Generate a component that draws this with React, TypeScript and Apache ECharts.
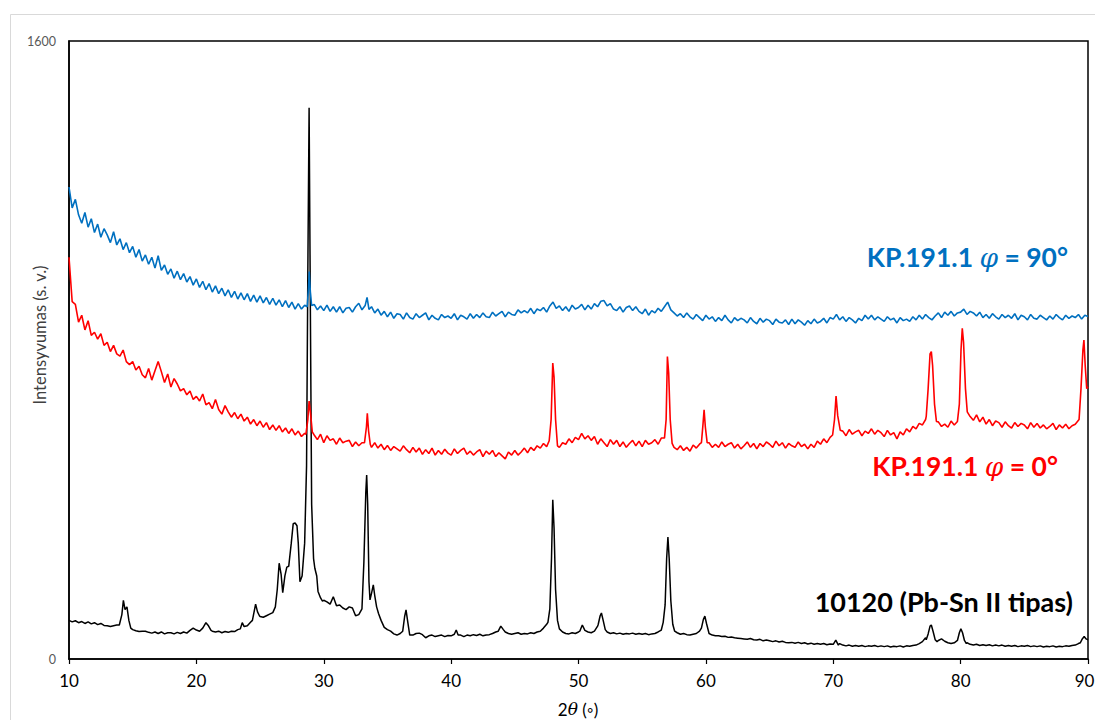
import React, { useEffect, useRef } from "react";
import * as echarts from "echarts";

// x grid of the baseline arrays: 10 .. 90 step 0.25
const X_START = 10;
const X_STEP = 0.25;
const xTicks = [10, 20, 30, 40, 50, 60, 70, 80, 90];
const yTicks = [0, 1600];

const redBase = [
  1040, 925, 918, 872, 890, 852, 876, 838, 846, 828, 842, 812, 820, 796, 812, 790,
  784, 800, 770, 762, 770, 748, 758, 736, 728, 752, 722, 746, 770, 744, 716, 738,
  704, 726, 712, 694, 700, 684, 694, 672, 680, 668, 686, 658, 664, 648, 672, 646,
  634, 656, 640, 626, 638, 622, 634, 616, 626, 608, 620, 604, 616, 600, 612, 594,
  606, 592, 604, 588, 598, 584, 596, 580, 590, 576, 584, 580, 590, 580, 568, 582,
  560, 578, 566, 570, 556, 572, 560, 564, 566, 550, 562, 552, 560, 554, 560, 548,
  560, 546, 556, 542, 553, 540, 550, 544, 538, 552, 542, 534, 548, 536, 546, 530,
  542, 532, 546, 528, 540, 530, 543, 533, 528, 544, 532, 540, 546, 530, 538, 528,
  536, 542, 524, 538, 530, 540, 524, 534, 526, 518, 536, 528, 540, 528, 536, 546,
  534, 548, 540, 552, 546, 558, 550, 562, 600, 560, 548, 560, 556, 570, 560, 574,
  568, 584, 570, 578, 566, 576, 556, 570, 560, 550, 568, 556, 566, 550, 562, 548,
  558, 566, 552, 564, 550, 566, 556, 560, 568, 556, 572, 566, 600, 556, 548, 542,
  552, 540, 548, 538, 554, 546, 556, 600, 600, 560, 548, 556, 548, 562, 550, 556,
  560, 546, 556, 544, 552, 562, 548, 558, 544, 558, 550, 562, 556, 548, 564, 552,
  560, 546, 558, 552, 548, 562, 550, 556, 544, 556, 548, 564, 556, 570, 560, 574,
  600, 620, 600, 590, 578, 594, 582, 588, 592, 578, 590, 584, 596, 582, 592, 586,
  576, 592, 580, 586, 570, 588, 580, 596, 588, 602, 596, 610, 606, 620, 640, 790,
  640, 614, 602, 608, 600, 616, 606, 640, 830, 740, 640, 628, 618, 632, 614, 626,
  608, 620, 604, 616, 612, 600, 614, 604, 598, 612, 602, 610, 606, 596, 612, 600,
  610, 598, 606, 596, 602, 610, 594, 606, 598, 608, 596, 604, 608, 618, 800, 760,
  705,
];

const redPeaks = [
  [[28.6, 582], [28.75, 620], [28.85, 668], [28.95, 640], [29.1, 588]],
  [[33.2, 560], [33.35, 600], [33.42, 636], [33.52, 590], [33.65, 556]],
  [[47.7, 565], [47.85, 620], [47.98, 766], [48.08, 730], [48.2, 620], [48.35, 552]],
  [[56.75, 572], [56.88, 620], [56.98, 783], [57.08, 740], [57.2, 620], [57.35, 558]],
  [[59.65, 560], [59.78, 610], [59.86, 645], [59.96, 600], [60.1, 560]],
  [[69.95, 580], [70.1, 620], [70.22, 681], [70.35, 630], [70.55, 592]],
  [[77.3, 628], [77.45, 700], [77.6, 790], [77.7, 796], [77.8, 760], [77.95, 660], [78.1, 615]],
  [[79.75, 615], [79.9, 660], [80.03, 800], [80.13, 856], [80.23, 820], [80.38, 700], [80.52, 640], [80.7, 630]],
  [[89.3, 620], [89.45, 700], [89.6, 800], [89.68, 826], [89.78, 760], [89.9, 700], [90, 705]],
];

const blueBase = [
  1222, 1168, 1190, 1150, 1128, 1156, 1118, 1140, 1104, 1126, 1092, 1114, 1098, 1078, 1106, 1072,
  1088, 1060, 1078, 1052, 1068, 1040, 1060, 1030, 1046, 1022, 1040, 1012, 1044, 1006, 1020, 996,
  1010, 986, 1004, 982, 998, 976, 990, 968, 984, 962, 978, 956, 972, 950, 966, 946,
  960, 940, 956, 936, 952, 932, 948, 930, 946, 926, 942, 924, 940, 922, 936, 918,
  934, 916, 930, 912, 928, 910, 924, 906, 920, 906, 916, 912, 950, 918, 904, 914,
  902, 916, 900, 912, 898, 912, 896, 908, 910, 898, 912, 921, 904, 915, 930, 912,
  896, 906, 890, 900, 886, 898, 882, 894, 892, 880, 896, 884, 880, 894, 884, 890,
  896, 878, 890, 882, 878, 892, 884, 888, 882, 894, 878, 890, 886, 880, 894, 882,
  892, 884, 896, 886, 884, 898, 888, 894, 900, 886, 898, 892, 890, 904, 896, 902,
  896, 908, 894, 906, 902, 910, 898, 914, 924, 908, 914, 902, 912, 900, 916, 906,
  910, 918, 904, 916, 906, 920, 912, 926, 928, 914, 920, 906, 902, 912, 898, 910,
  914, 902, 912, 900, 894, 906, 890, 902, 896, 908, 900, 912, 924, 904, 896, 888,
  894, 884, 896, 886, 880, 892, 884, 876, 890, 880, 886, 874, 884, 876, 890, 878,
  870, 884, 876, 882, 878, 870, 884, 874, 868, 882, 872, 880, 876, 866, 880, 872,
  870, 878, 866, 880, 868, 878, 872, 864, 876, 868, 880, 870, 874, 882, 870, 884,
  880, 892, 878, 886, 874, 884, 878, 870, 882, 876, 890, 880, 890, 878, 886, 880,
  874, 886, 878, 882, 870, 884, 876, 880, 874, 886, 878, 890, 880, 892, 884, 878,
  888, 896, 884, 898, 890, 900, 888, 896, 898, 906, 892, 900, 896, 888, 898, 884,
  892, 882, 894, 886, 880, 892, 884, 890, 882, 894, 878, 890, 886, 878, 892, 882,
  880, 890, 884, 878, 888, 880, 892, 884, 878, 890, 882, 888, 884, 892, 880, 890,
  887,
];

const bluePeaks = [
  [[28.7, 912], [28.8, 960], [28.86, 1003], [28.95, 950], [29.05, 915]],
  [[33.25, 915], [33.4, 936], [33.55, 905]],
];

const blackBase = [
  100, 96, 99, 94, 97, 92, 96, 91, 94, 89, 92, 87, 86, 84, 86, 88,
  90, 130, 132, 95, 76, 73, 71, 72, 72, 69, 67, 70, 66, 70, 65, 68,
  68, 65, 69, 66, 70, 67, 74, 80, 75, 72, 76, 88, 84, 72, 70, 72,
  68, 71, 69, 72, 71, 76, 92, 84, 86, 95, 128, 125, 110, 108, 112, 116,
  122, 200, 230, 215, 235, 240, 330, 350, 300, 215, 500, 1000, 700, 235, 180, 155,
  152, 148, 142, 161, 138, 140, 132, 128, 135, 132, 112, 115, 130, 300, 250, 165,
  160, 118, 100, 82, 76, 72, 65, 62, 66, 76, 118, 62, 62, 66, 67, 63,
  55, 60, 62, 58, 60, 62, 58, 61, 60, 68, 74, 62, 58, 62, 60, 63,
  61, 64, 60, 62, 63, 66, 70, 82, 78, 70, 66, 64, 66, 68, 64, 66,
  65, 68, 66, 70, 72, 80, 90, 150, 380, 150, 80, 70, 66, 65, 68, 66,
  70, 86, 80, 70, 68, 72, 85, 115, 80, 70, 66, 68, 65, 67, 64, 66,
  65, 67, 64, 66, 64, 66, 63, 65, 66, 70, 75, 100, 300, 120, 72, 68,
  64, 66, 63, 62, 64, 66, 72, 100, 100, 64, 62, 60, 60, 58, 59, 56,
  57, 55, 54, 53, 52, 51, 53, 50, 49, 51, 47, 49, 47, 45, 47, 44,
  46, 43, 42, 43, 41, 43, 40, 42, 39, 41, 38, 40, 38, 40, 37, 39,
  42, 48, 40, 36, 34, 36, 33, 35, 33, 35, 32, 34, 33, 35, 32, 34,
  32, 34, 31, 33, 32, 34, 31, 34, 33, 35, 36, 40, 45, 55, 85, 70,
  45, 48, 52, 46, 42, 40, 42, 50, 76, 60, 42, 38, 36, 38, 35, 37,
  35, 37, 34, 36, 34, 36, 33, 35, 33, 35, 32, 34, 33, 35, 32, 34,
  32, 34, 31, 33, 32, 34, 31, 33, 32, 34, 33, 35, 36, 40, 50, 58,
  52,
];

const blackPeaks = [
  [[13.95, 88], [14.15, 115], [14.27, 152], [14.4, 128], [14.55, 135], [14.7, 100], [14.85, 80]],
  [[20.5, 80], [20.75, 94], [20.95, 86], [21.15, 74]],
  [[23.45, 78], [23.6, 94], [23.75, 84]],
  [[24.4, 100], [24.55, 125], [24.65, 142], [24.8, 122], [24.95, 112]],
  [[26.0, 120], [26.2, 135], [26.35, 180], [26.5, 248], [26.65, 220], [26.78, 172], [26.95, 215],
   [27.1, 238], [27.25, 240], [27.45, 300], [27.6, 350], [27.75, 352], [27.9, 345], [28.0, 300],
   [28.13, 200], [28.3, 215], [28.5, 300], [28.65, 500], [28.75, 1000], [28.85, 1427], [28.95, 900],
   [29.05, 400], [29.2, 260], [29.3, 235], [29.45, 215], [29.55, 175], [29.75, 158], [29.9, 150]],
  [[32.8, 115], [33.0, 130], [33.15, 250], [33.3, 430], [33.37, 476], [33.45, 400], [33.55, 200],
   [33.63, 153], [33.75, 170], [33.89, 192], [34.0, 165], [34.15, 135], [34.3, 118]],
  [[36.2, 72], [36.35, 110], [36.46, 127], [36.6, 95], [36.75, 62]],
  [[40.25, 64], [40.4, 75], [40.55, 62]],
  [[43.7, 72], [43.9, 85], [44.1, 76]],
  [[47.6, 95], [47.75, 130], [47.88, 260], [47.98, 412], [48.08, 340], [48.2, 180], [48.35, 100], [48.5, 78]],
  [[50.1, 72], [50.3, 88], [50.5, 74]],
  [[51.55, 90], [51.7, 112], [51.8, 119], [51.95, 98], [52.1, 76]],
  [[56.65, 95], [56.8, 140], [56.92, 260], [57.02, 316], [57.12, 260], [57.25, 150], [57.4, 90], [57.55, 72]],
  [[59.65, 80], [59.8, 102], [59.92, 111], [60.05, 92], [60.25, 66]],
  [[70.0, 38], [70.2, 49], [70.4, 36]],
  [[77.3, 50], [77.45, 65], [77.6, 85], [77.7, 88], [77.85, 70], [78.0, 50], [78.15, 45]],
  [[79.75, 48], [79.9, 68], [80.02, 78], [80.15, 68], [80.3, 48], [80.45, 40]],
  [[89.4, 42], [89.55, 52], [89.7, 58], [89.85, 52], [90, 50]],
];

const seriesNames = ["10120 (Pb-Sn II tipas)", "KP.191.1 φ = 0°", "KP.191.1 φ = 90°"];

function build(base: number[], peaks: number[][][]) {
  const pts: number[][] = [];
  base.forEach((v, i) => {
    const x = X_START + i * X_STEP;
    const inside = peaks.some((p) => x >= p[0][0] && x <= p[p.length - 1][0]);
    if (!inside) pts.push([x, v]);
  });
  peaks.forEach((p) => p.forEach((pt) => pts.push(pt)));
  pts.sort((a, b) => a[0] - b[0]);
  return pts;
}

const FONT = "Lato, 'Open Sans', sans-serif";
const SERIF = "'DejaVu Serif', serif";

export default function App() {
  const ref = useRef<HTMLDivElement>(null);
  useEffect(() => {
    if (!ref.current) return;
    const chart = echarts.init(ref.current, undefined, { renderer: "svg", width: 1095, height: 720 });
    const lineCommon = {
      type: "line",
      showSymbol: false,
      symbol: "none",
      smooth: false,
    };
    const lastX = xTicks[xTicks.length - 1];
    chart.setOption({
      animation: false,
      backgroundColor: "#fff",
      grid: {
        left: 69,
        top: 41,
        width: 1019,
        height: 618,
        outerBoundsMode: "none",
        containLabel: false,
        show: true,
        borderColor: "#000",
        borderWidth: 1.5,
        backgroundColor: "transparent",
      },
      xAxis: {
        type: "value",
        min: xTicks[0],
        max: lastX,
        interval: 10,
        axisLine: { show: true, lineStyle: { color: "#000", width: 1.5 } },
        axisTick: { show: true, inside: false, length: 5, lineStyle: { color: "#000", width: 1.2 } },
        axisLabel: {
          color: "#000",
          fontSize: 17,
          fontFamily: FONT,
          margin: 13,
          formatter: (v: number) => (v === lastX ? `{r|${v}}` : String(v)),
          rich: {
            r: { fontSize: 17, fontFamily: FONT, color: "#000", padding: [0, 7, 0, 0] },
          },
        },
        splitLine: { show: false },
      },
      yAxis: {
        type: "value",
        min: yTicks[0],
        max: yTicks[yTicks.length - 1],
        interval: 1600,
        axisLine: { show: true, lineStyle: { color: "#000", width: 1.5 } },
        axisTick: { show: false },
        axisLabel: {
          color: "#595959",
          fontSize: 12.5,
          fontFamily: FONT,
          margin: 13,
          formatter: (v: number) => String(v),
        },
        splitLine: { show: false },
      },
      graphic: [
        {
          type: "rect",
          silent: true,
          z: -10,
          shape: { x: 10.5, y: 14.5, width: 1200, height: 800 },
          style: { fill: "none", stroke: "#d9d9d9", lineWidth: 1 },
        },
        {
          type: "text",
          x: 40,
          y: 335,
          rotation: Math.PI / 2,
          style: {
            text: "Intensyvumas (s. v.)",
            fill: "#404040",
            font: `16.5px ${FONT}`,
            align: "center",
            verticalAlign: "middle",
          },
        },
        {
          type: "text",
          x: 578,
          y: 709,
          style: {
            text: "{a|2}{t|θ}{a| (◦)}",
            align: "center",
            verticalAlign: "middle",
            rich: {
              a: { fontSize: 17, fontFamily: FONT, fill: "#000" },
              t: { fontSize: 17, fontFamily: SERIF, fontStyle: "italic", fill: "#000" },
            },
          },
        },
        {
          type: "text",
          x: 1068,
          y: 257,
          style: {
            text: "{b|KP.191.1 }{i|φ}{b| = 90°}",
            align: "right",
            verticalAlign: "middle",
            rich: {
              b: { fontSize: 26.5, fontWeight: "bold", fontFamily: FONT, fill: "#0070C0" },
              i: { fontSize: 26.5, fontStyle: "italic", fontFamily: SERIF, fill: "#0070C0" },
            },
          },
        },
        {
          type: "text",
          x: 1058,
          y: 466,
          style: {
            text: "{b|KP.191.1 }{i|φ}{b| = 0°}",
            align: "right",
            verticalAlign: "middle",
            rich: {
              b: { fontSize: 26.5, fontWeight: "bold", fontFamily: FONT, fill: "#FF0000" },
              i: { fontSize: 26.5, fontStyle: "italic", fontFamily: SERIF, fill: "#FF0000" },
            },
          },
        },
        {
          type: "text",
          x: 1073,
          y: 601,
          style: {
            text: "10120 (Pb-Sn II tipas)",
            align: "right",
            verticalAlign: "middle",
            fill: "#000",
            font: `bold 27px ${FONT}`,
          },
        },
      ],
      series: [
        {
          ...lineCommon,
          name: seriesNames[0],
          z: 2,
          data: build(blackBase, blackPeaks),
          lineStyle: { color: "#000", width: 1.5 },
        },
        {
          ...lineCommon,
          name: seriesNames[1],
          z: 3,
          data: build(redBase, redPeaks),
          lineStyle: { color: "#FF0000", width: 1.6 },
        },
        {
          ...lineCommon,
          name: seriesNames[2],
          z: 4,
          data: build(blueBase, bluePeaks),
          lineStyle: { color: "#0070C0", width: 1.6 },
        },
      ],
    });
    return () => chart.dispose();
  }, []);
  return (
    <div
      ref={ref}
      style={{ position: "absolute", left: 0, top: 0, width: 1095, height: 720 }}
    />
  );
}
